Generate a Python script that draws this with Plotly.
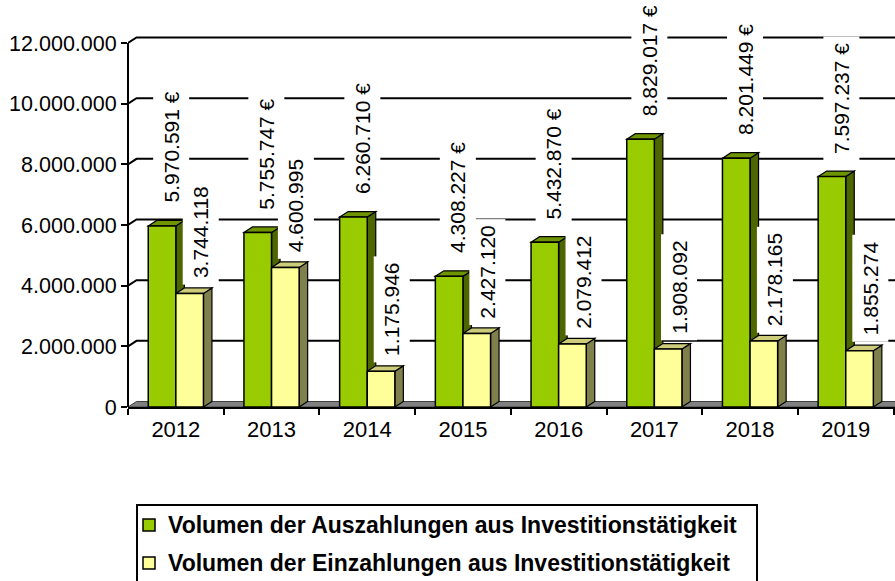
import plotly.graph_objects as go

years = ["2012", "2013", "2014", "2015", "2016", "2017", "2018", "2019"]
auszahlungen = [5970591, 5755747, 6260710, 4308227, 5432870, 8829017, 8201449, 7597237]
einzahlungen = [3744118, 4600995, 1175946, 2427120, 2079412, 1908092, 2178165, 1855274]
y_ticks = [0, 2000000, 4000000, 6000000, 8000000, 10000000, 12000000]
y_ticktext = ["0", "2.000.000", "4.000.000", "6.000.000", "8.000.000", "10.000.000", "12.000.000"]
name_a = "Volumen der Auszahlungen aus Investitionstätigkeit"
name_e = "Volumen der Einzahlungen aus Investitionstätigkeit"

# layout geometry (pixels)
W, H = 895, 581
L, R, T, B = 128, 0, 30, 174
plot_w = W - L - R
plot_h = H - T - B
cat_px = 95.7
y_top_px = 43  # pixel row of 12.000.000
px_per_unit = (H - B - y_top_px) / y_ticks[-1]
y_max = plot_h / px_per_unit
x_min = -0.5
x_max = x_min + plot_w / cat_px

DX = 8.5 / cat_px          # depth offset in category units
DY = 5.5 / px_per_unit     # depth offset in value units
BW = 27.6 / cat_px         # bar width

GREEN = "#99CC00"; GREEN_TOP = "#6E9400"; GREEN_SIDE = "#4D6600"
YEL = "#FFFF99"; YEL_TOP = "#CCCC7A"; YEL_SIDE = "#80804D"
FONT = "Liberation Sans, Arial, sans-serif"

def px_x(p):
    return (p - L) / plot_w

def px_y(p):
    return (H - B - p) / plot_h

def fmt(v):
    return f"{v:,}".replace(",", ".")

fig = go.Figure()
fig.add_trace(go.Bar(x=years, y=auszahlungen, name=name_a, width=BW, offset=-BW,
                     marker=dict(color=GREEN, line=dict(color="black", width=1.5)),
                     showlegend=False))
fig.add_trace(go.Bar(x=years, y=einzahlungen, name=name_e, width=BW, offset=0,
                     marker=dict(color=YEL, line=dict(color="black", width=1.5)),
                     showlegend=False))

shapes = []
# back-wall gridlines
for v in y_ticks[1:]:
    shapes.append(dict(type="path", xref="x", yref="y", layer="below",
                       path=f"M {x_min},{v} L {x_min+DX},{v+DY} L {x_max+DX},{v+DY}",
                       line=dict(color="black", width=2)))
# floor
shapes.append(dict(type="path", xref="x", yref="y", layer="below",
                   path=f"M {x_min},0 L {x_min+DX},{DY} L {x_max+DX},{DY} L {x_max},0 Z",
                   fillcolor="#808080", line=dict(color="#404040", width=1)))

def faces(x0, x1, v, top, side):
    out = []
    out.append(dict(type="path", xref="x", yref="y", layer="below",
                    path=f"M {x1},0 L {x1+DX},{DY} L {x1+DX},{v+DY} L {x1},{v} Z",
                    fillcolor=side, line=dict(color="black", width=1.2)))
    out.append(dict(type="path", xref="x", yref="y", layer="below",
                    path=f"M {x0},{v} L {x0+DX},{v+DY} L {x1+DX},{v+DY} L {x1},{v} Z",
                    fillcolor=top, line=dict(color="black", width=1.2)))
    return out

for i in range(len(years)):
    shapes += faces(i - BW, i, auszahlungen[i], GREEN_TOP, GREEN_SIDE)
    shapes += faces(i, i + BW, einzahlungen[i], YEL_TOP, YEL_SIDE)

# front y-axis line
shapes.append(dict(type="line", xref="paper", yref="y", layer="above",
                   x0=0, x1=0, y0=0, y1=y_ticks[-1], line=dict(color="black", width=2)))

annotations = []
for i in range(len(years)):
    annotations.append(dict(x=i - BW / 2, y=auszahlungen[i], xref="x", yref="y",
                            text=fmt(auszahlungen[i]) + " €", textangle=-90, showarrow=False,
                            xanchor="center", yanchor="bottom", xshift=9, yshift=16,
                            bgcolor="white", borderpad=6,
                            font=dict(family=FONT, size=21, color="black")))
    annotations.append(dict(x=i + BW / 2, y=einzahlungen[i], xref="x", yref="y",
                            text=fmt(einzahlungen[i]), textangle=-90, showarrow=False,
                            xanchor="center", yanchor="bottom", xshift=11, yshift=8,
                            bgcolor="white", borderpad=6,
                            font=dict(family=FONT, size=21, color="black")))

# hand-drawn legend (frame, swatches, labels)
shapes.append(dict(type="rect", xref="paper", yref="paper", layer="above",
                   x0=px_x(137), x1=px_x(757), y0=px_y(505), y1=px_y(590),
                   line=dict(color="black", width=2), fillcolor="rgba(0,0,0,0)"))
for name, color, row_y in [(name_a, GREEN, 525), (name_e, YEL, 563)]:
    shapes.append(dict(type="rect", xref="paper", yref="paper", layer="above",
                       x0=px_x(143), x1=px_x(155), y0=px_y(row_y + 6), y1=px_y(row_y - 6),
                       line=dict(color="black", width=1.5), fillcolor=color))
    annotations.append(dict(x=px_x(166), y=px_y(row_y), xref="paper", yref="paper",
                            text=name, showarrow=False, xanchor="left", yanchor="middle",
                            font=dict(family=FONT, size=23, color="black", weight="bold")))

fig.update_layout(
    width=W, height=H,
    margin=dict(l=L, r=R, t=T, b=B, pad=0),
    paper_bgcolor="white", plot_bgcolor="white",
    barmode="overlay",
    shapes=shapes, annotations=annotations,
    font=dict(family=FONT, size=21, color="black"),
    showlegend=False,
    xaxis=dict(type="category", range=[x_min, x_max], tickson="boundaries",
               ticks="outside", ticklen=6, tickwidth=2, tickcolor="black",
               showline=True, linecolor="black", linewidth=2, showgrid=False,
               ticklabelstandoff=2,
               tickfont=dict(family=FONT, size=22, color="black"), zeroline=False),
    yaxis=dict(range=[0, y_max], tickvals=y_ticks, ticktext=y_ticktext,
               ticks="outside", ticklen=6, tickwidth=2, tickcolor="black",
               showline=False, showgrid=False, zeroline=False,
               tickfont=dict(family=FONT, size=21.5, color="black")),
)

fig.write_html("out.html")
